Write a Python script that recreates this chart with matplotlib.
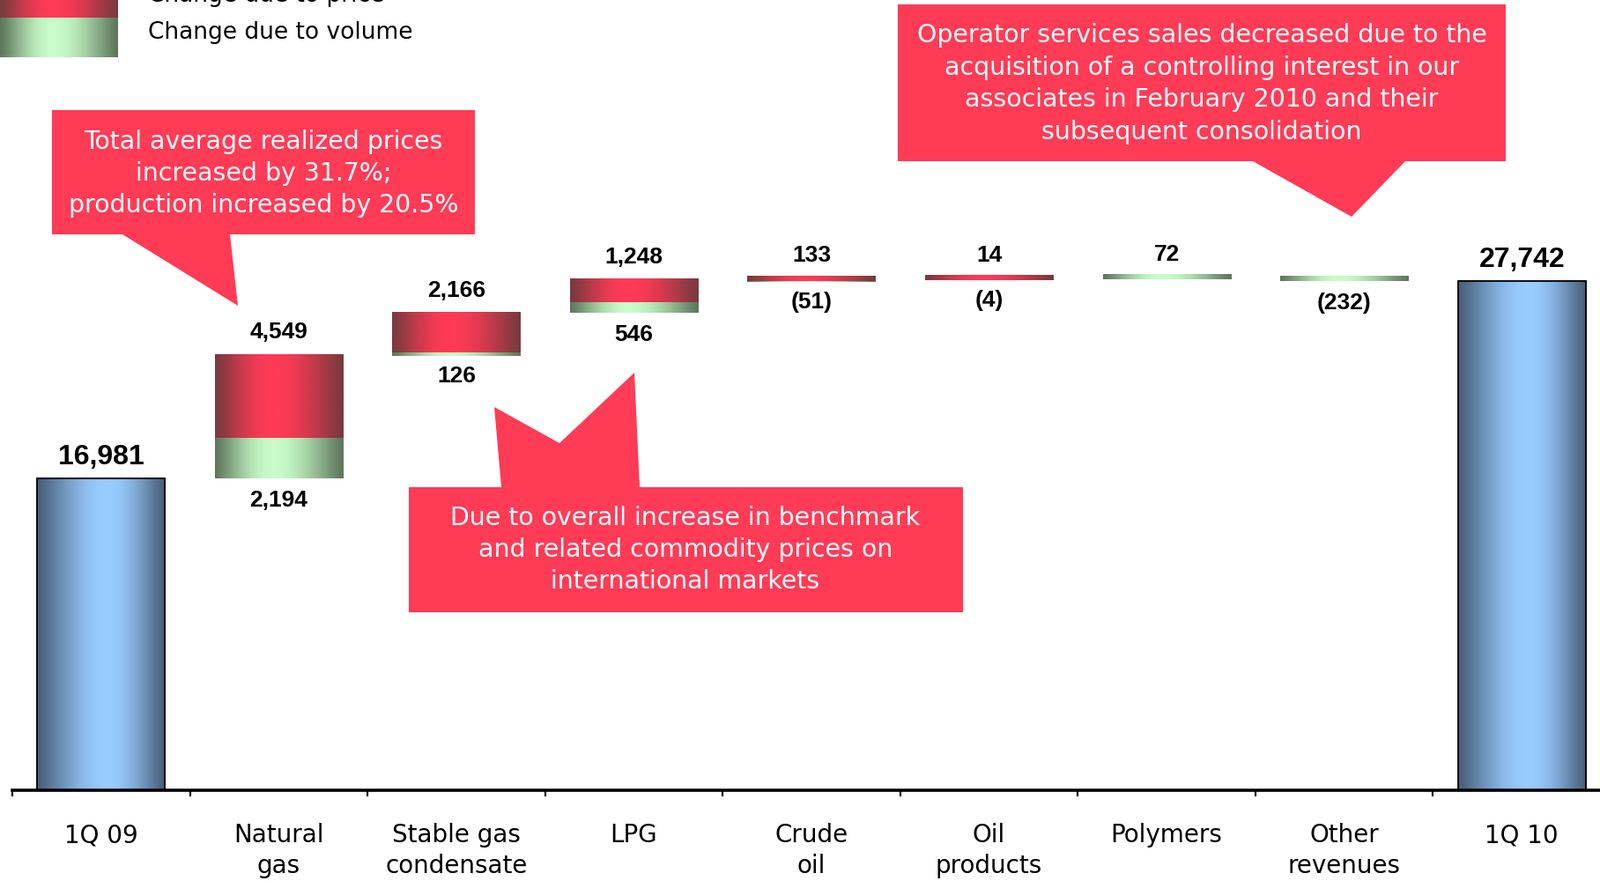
import numpy as np
import matplotlib
matplotlib.use("Agg")
import matplotlib.pyplot as plt
from matplotlib.patches import Polygon

# data (RUB mn)
categories = ["1Q 09", "Natural\ngas", "Stable gas\ncondensate", "LPG", "Crude\noil",
              "Oil\nproducts", "Polymers", "Other\nrevenues", "1Q 10"]
start_total = 16981
end_total = 27742
price_change = [4549, 2166, 1248, 133, 14, 0, 0]
volume_change = [2194, 126, 546, -51, -4, 72, -232]

RED_DARK = np.array([0x78, 0x3a, 0x3e]) / 255
RED_BRIGHT = np.array([0xff, 0x3a, 0x56]) / 255
GREEN_DARK = np.array([0x5e, 0x77, 0x5c]) / 255
GREEN_BRIGHT = np.array([0xc9, 0xfc, 0xc9]) / 255
BLUE_DARK = np.array([0x48, 0x5e, 0x7a]) / 255
BLUE_BRIGHT = np.array([0x99, 0xcc, 0xff]) / 255
CALLOUT = "#ff3b56"

MIN_H = 250  # thinnest bar drawn, so tiny changes stay visible


def gradient(dark, bright, peak=0.45, n=256):
    t = np.linspace(0, 1, n)
    w = np.where(t < peak, t / peak, (1 - t) / (1 - peak))
    w = np.sin(w * np.pi / 2) ** 1.2
    return (dark[None, :] * (1 - w[:, None]) + bright[None, :] * w[:, None])[None, :, :]


def fmt(v):
    return f"{v:,}" if v >= 0 else f"({-v:,})"


fig = plt.figure(figsize=(18.16, 10), dpi=100)
ax = fig.add_axes([14 / 1816, 0.103, 1814 / 1816, 0.897])

grad_red = gradient(RED_DARK, RED_BRIGHT)
grad_green = gradient(GREEN_DARK, GREEN_BRIGHT)
grad_blue = gradient(BLUE_DARK, BLUE_BRIGHT, peak=0.55)


def fill_bars(bars, grad, z):
    for p in bars:
        x, y = p.get_x(), p.get_y()
        w, h = p.get_width(), p.get_height()
        ax.imshow(grad, extent=[x, x + w, y, y + h], aspect="auto", zorder=z,
                  interpolation="bilinear")


width = 0.72
# totals
tot = ax.bar([0, 8], [start_total, end_total], width=width, color="none",
             edgecolor="black", linewidth=1.3, zorder=5)
fill_bars(tot, grad_blue, 4)
for xi, v in zip([0, 8], [start_total, end_total]):
    ax.annotate(fmt(v), (xi, v), xytext=(0, 17), textcoords="offset points",
                ha="center", va="center", fontsize=23, fontweight="bold",
                family=["Liberation Sans", "DejaVu Sans"])

running = start_total
for i, (pc, vc) in enumerate(zip(price_change, volume_change)):
    xi = i + 1
    base = running
    segs = []
    if vc != 0:
        segs.append((base, vc, grad_green, 3))
    if pc != 0:
        segs.append((base + vc, pc, grad_red, 4))
    for bottom, h, g, z in segs:
        lo, hi = min(bottom, bottom + h), max(bottom, bottom + h)
        if hi - lo < MIN_H:
            c = (lo + hi) / 2
            lo, hi = c - MIN_H / 2, c + MIN_H / 2
        b = ax.bar([xi], [hi - lo], bottom=[lo], width=width, color="none", linewidth=0)
        fill_bars(b, g, z)
    top = max(base, base + vc, base + vc + pc)
    bot = min(base, base + vc, base + vc + pc)
    above = pc if pc else (vc if vc > 0 else None)
    below = vc if pc else (vc if vc < 0 else None)
    lab = dict(ha="center", va="center", fontsize=19, fontweight="bold",
               family=["Liberation Sans", "DejaVu Sans"])
    if above is not None:
        ax.annotate(fmt(above), (xi, top), xytext=(0, 18), textcoords="offset points", **lab)
    if below is not None:
        ax.annotate(fmt(below), (xi, bot), xytext=(0, -18), textcoords="offset points", **lab)
    running += pc + vc

ax.set_xlim(-0.5, 8.5)
ax.set_ylim(0, 43020)
for s in ["top", "left", "right"]:
    ax.spines[s].set_visible(False)
ax.spines["bottom"].set_linewidth(2.6)
ax.spines["bottom"].set_zorder(6)
ax.set_yticks([])
ax.set_xticks(np.arange(-0.5, 8, 1.0), minor=True)
ax.tick_params(axis="x", which="minor", length=5, width=1.5, direction="out")
ax.set_xticks(range(len(categories)))
ax.set_xticklabels(categories, fontsize=20, linespacing=1.3)
ax.tick_params(axis="x", which="major", length=0, pad=27)
ax.patch.set_alpha(0)

# overlay in pixel coordinates for callouts and legend
ov = fig.add_axes([0, 0, 1, 1], zorder=10)
ov.set_xlim(0, 1816)
ov.set_ylim(1000, 0)
ov.axis("off")
ov.patch.set_alpha(0)

callouts = [
    ([(59, 125), (539, 125), (539, 266), (261, 266), (270, 347), (139, 266), (59, 266)],
     (299, 197), "Total average realized prices\nincreased by 31.7%;\nproduction increased by 20.5%"),
    ([(464, 553), (569, 553), (561, 462), (635, 503), (720, 423), (726, 553),
      (1093, 553), (1093, 695), (464, 695)],
     (778, 624), "Due to overall increase in benchmark\nand related commodity prices on\ninternational markets"),
    ([(1019, 5), (1709, 5), (1709, 183), (1595, 183), (1534, 246), (1422, 183), (1019, 183)],
     (1364, 95), "Operator services sales decreased due to the\nacquisition of a controlling interest in our\n"
                 "associates in February 2010 and their\nsubsequent consolidation"),
]
for pts, (tx, ty), txt in callouts:
    ov.add_patch(Polygon(pts, closed=True, facecolor=CALLOUT, edgecolor="none"))
    ov.text(tx, ty, txt, ha="center", va="center", color="white", fontsize=20.4,
            linespacing=1.38, multialignment="center")

# legend (partly cut at the top, like the slide)
ov.imshow(grad_red, extent=[0, 134, 20, -25], aspect="auto", zorder=3)
ov.imshow(grad_green, extent=[0, 134, 65, 20], aspect="auto", zorder=3)
ov.text(168, -5, "Change due to price", fontsize=19, va="center", ha="left")
ov.text(168, 37, "Change due to volume", fontsize=19, va="center", ha="left")
ov.set_xlim(0, 1816)
ov.set_ylim(1000, 0)

fig.savefig("out.png", dpi=100)
